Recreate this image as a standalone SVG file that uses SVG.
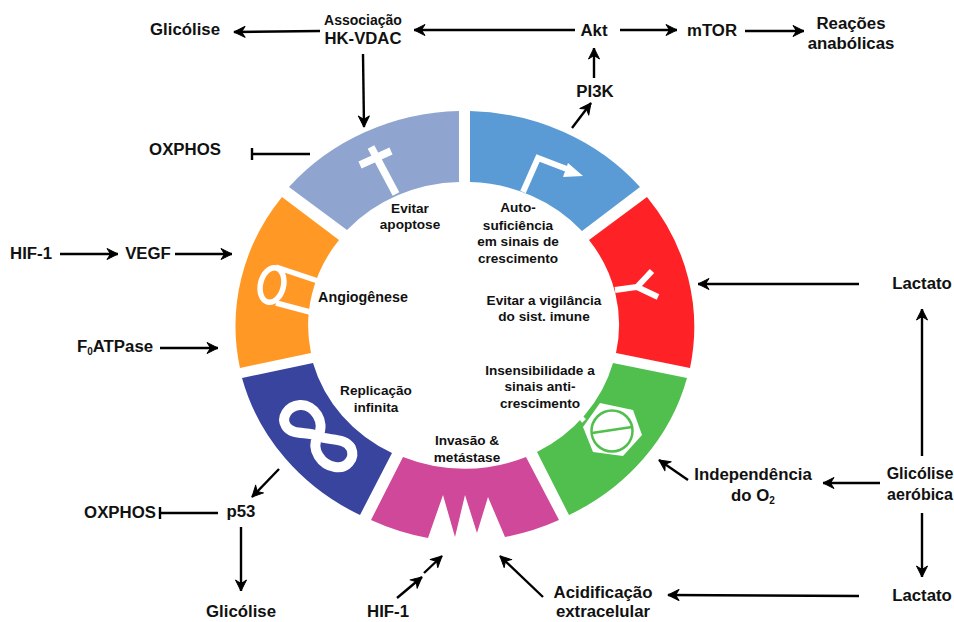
<svg xmlns="http://www.w3.org/2000/svg" width="954" height="622" viewBox="0 0 954 622">
<style>
text{font-family:"Liberation Sans",Arial,sans-serif;font-weight:bold;fill:#111;text-anchor:middle}
.o{font-size:16.8px}
.i{font-size:13.6px}
.c{fill:none;stroke:#000;stroke-width:2.4}
.a{marker-end:url(#ah)}
.ic{fill:none;stroke:#fff;stroke-width:6}
</style>
<defs>
<marker id="ah" markerUnits="userSpaceOnUse" markerWidth="14" markerHeight="14" refX="12" refY="7" orient="auto"><path d="M1 1.5L12 7L1 12.5L4.5 7Z" fill="#000" stroke="#000" stroke-width="1" stroke-linejoin="round"/></marker>
</defs>
<rect width="954" height="622" fill="#fff"/>

<g id="seg-apoptose">
<path d="M459 111V182A155 143 0 0 0 347 230L289 187A230 214 0 0 1 459 111Z" fill="#8FA5CF"/>
<path class="ic" style="stroke-width:7.5" d="M396 194L371 147M360 165L391 151"/>
<text class="i" x="410" y="213">Evitar</text><text class="i" x="410" y="229">apoptose</text>
</g>
<g id="seg-crescimento">
<path d="M470 111V182A155 143 0 0 1 582 231L640 187A230 214 0 0 0 470 111Z" fill="#5B9BD5"/>
<path class="ic" d="M523 192L538 158L572 171"/><path d="M568 163L583 176L563 177Z" fill="#fff"/>
<text class="i" x="518" y="212">Auto-</text><text class="i" x="518" y="230">suficiência</text><text class="i" x="518" y="246">em sinais de</text><text class="i" x="518" y="263">crescimento</text>
</g>
<g id="seg-imune">
<path d="M647 197A230 214 0 0 1 690 368L616 353A155 143 0 0 0 589 240Z" fill="#FE2226"/>
<path class="ic" d="M615 290L637 287L652 271M637 287L658 297"/>
<text class="i" x="544" y="305">Evitar a vigilância</text><text class="i" x="544" y="321">do sist. imune</text>
</g>
<g id="seg-anticrescimento">
<path d="M687 378A230 214 0 0 1 569 515L537 452A155 143 0 0 0 613 363Z" fill="#50BF4E"/>
<path d="M600 403L633 410L642 435L623 456L593 452L583 427Z" fill="#fff"/>
<path d="M584 421L578 414" stroke="#fff" stroke-width="5"/>
<circle cx="612" cy="431" r="20.5" fill="none" stroke="#50BF4E" stroke-width="2.5"/>
<path d="M592 433L632 427" stroke="#50BF4E" stroke-width="2.5"/>
<text class="i" x="540" y="375">Insensibilidade a</text><text class="i" x="540" y="391">sinais anti-</text><text class="i" x="540" y="408">crescimento</text>
</g>
<g id="seg-metastase">
<path d="M403 457A155 143 0 0 0 526 457L559 520A230 214 0 0 1 505 537L488 497L477 533L465 495L455 537L443 495L428 538A230 214 0 0 1 371 520Z" fill="#CF4899"/>
<text class="i" x="467" y="445">Invasão &amp;</text><text class="i" x="467" y="462">metástase</text>
</g>
<g id="seg-replicacao">
<path d="M242 378L313 363A155 143 0 0 0 392 453L360 515A230 214 0 0 1 242 378Z" fill="#39449F"/>
<path d="M318 436C326 422 314 404 300 405C287 406 281 418 286 426C292 436 308 431 318 436C328 441 345 437 351 448C356 459 346 469 335 467C322 465 310 450 318 436Z" fill="none" stroke="#fff" stroke-width="10"/>
<text class="i" x="376" y="395">Replicação</text><text class="i" x="376" y="412">infinita</text>
</g>
<g id="seg-angiogenese">
<path d="M282 197L339 240A155 143 0 0 0 311 353L240 368A230 214 0 0 1 282 197Z" fill="#FF9824"/>
<ellipse cx="272" cy="285" rx="11.5" ry="17.5" transform="rotate(14 272 285)" fill="none" stroke="#fff" stroke-width="5.5"/>
<path d="M276 267L318 281M276 303L310 312" fill="none" stroke="#fff" stroke-width="5.5"/>
<text class="i" x="363" y="302" style="font-size:14.3px">Angiogênese</text>
</g>

<g id="connectors">
<path class="c a" d="M320 31L234 32"/>
<path class="c a" d="M575 30L414 30"/>
<path class="c a" d="M620 30L677 30"/>
<path class="c a" d="M745 31L804 31"/>
<path class="c a" d="M594 78L594 48"/>
<path class="c a" d="M572 128L591 103"/>
<path class="c a" d="M363 54L364 127"/>
<path class="c" d="M310 154H252M252 148V160"/>
<path class="c a" d="M60 254H118"/>
<path class="c a" d="M175 254H232"/>
<path class="c a" d="M160 348H218"/>
<path class="c a" d="M279 469L252 497"/>
<path class="c" d="M218 513H160M160 507V519"/>
<path class="c a" d="M241 527V591"/>
<path class="c a" d="M397 598L422 577"/>
<path class="c a" d="M424 573L442 556"/>
<path class="c a" d="M543 597L500 556"/>
<path class="c a" d="M859 596L668 595"/>
<path class="c a" d="M688 480L659 460"/>
<path class="c a" d="M880 483H823"/>
<path class="c a" d="M922 513V577"/>
<path class="c a" d="M922 456V309"/>
<path class="c a" d="M859 284H698"/>
</g>

<g id="n-glicolise-top"><text class="o" x="185" y="35">Glicólise</text></g>
<g id="n-hkvdac"><text x="363" y="25" style="font-size:14px">Associação</text><text x="363" y="44" style="font-size:16.7px">HK-VDAC</text></g>
<g id="n-akt"><text class="o" x="594" y="36">Akt</text></g>
<g id="n-mtor"><text class="o" x="712" y="36">mTOR</text></g>
<g id="n-reacoes"><text class="o" x="851" y="29">Reações</text><text class="o" x="851" y="49">anabólicas</text></g>
<g id="n-pi3k"><text class="o" x="595" y="97">PI3K</text></g>
<g id="n-oxphos-top"><text class="o" x="185" y="155">OXPHOS</text></g>
<g id="n-hif1-left"><text class="o" x="31" y="259">HIF-1</text></g>
<g id="n-vegf"><text class="o" x="148" y="259">VEGF</text></g>
<g id="n-f0atpase"><text class="o" x="115" y="352">F<tspan dy="3" style="font-size:10px">0</tspan><tspan dy="-3">ATPase</tspan></text></g>
<g id="n-oxphos-bottom"><text class="o" x="120" y="518">OXPHOS</text></g>
<g id="n-p53"><text class="o" x="241" y="517">p53</text></g>
<g id="n-glicolise-bottom"><text class="o" x="241" y="617">Glicólise</text></g>
<g id="n-hif1-bottom"><text class="o" x="388" y="617">HIF-1</text></g>
<g id="n-acidificacao"><text class="o" x="603" y="598">Acidificação</text><text class="o" x="603" y="617">extracelular</text></g>
<g id="n-lactato-bottom"><text class="o" x="922" y="601">Lactato</text></g>
<g id="n-independencia"><text class="o" x="753" y="480">Independência</text><text class="o" x="753" y="501">do O<tspan dy="3" style="font-size:10px">2</tspan></text></g>
<g id="n-glicolise-aerobica"><text x="920" y="479" style="font-size:16px">Glicólise</text><text x="920" y="500" style="font-size:16px">aeróbica</text></g>
<g id="n-lactato-top"><text class="o" x="922" y="289">Lactato</text></g>
</svg>
